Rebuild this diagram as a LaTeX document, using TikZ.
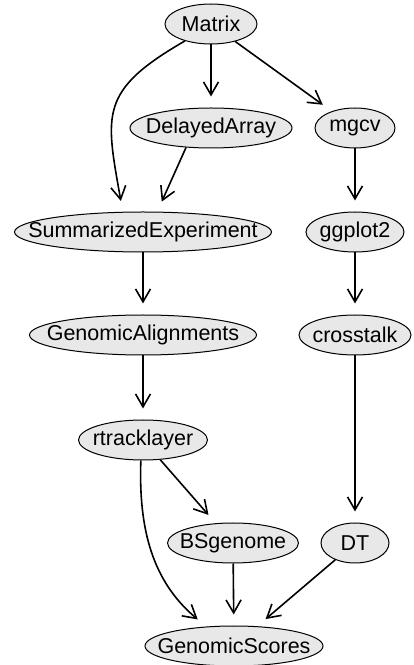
\documentclass[tikz,border=0pt]{standalone}
\usepackage{fontspec}
\setmainfont{Liberation Sans}
\usetikzlibrary{shapes.geometric,arrows.meta}

\begin{document}
\begin{tikzpicture}[x=1pt,y=1pt,font=\fontsize{21.5}{25}\selectfont]
    \tikzset{
        pkg/.style={
            ellipse, draw, fill=gray!18, line width=1pt,
            inner sep=0pt, minimum height=40pt, minimum width=#1,
            execute at begin node={\hbox to 0pt\bgroup\hss},
            execute at end node={\hss\egroup}
        },
        dep/.style={
            -{Straight Barb[length=13pt,width=15pt]},
            line width=1.6pt, shorten >=11pt
        }
    }
    \useasboundingbox (0,0) rectangle (414,665);

    \node[pkg=92pt] (matrix) at (211,641) {Matrix};
    \node[pkg=162pt] (delayed) at ([yshift=-104pt] matrix) {DelayedArray};
    \node[pkg=80pt] (mgcv) at (355,537) {mgcv};
    \node[pkg=257pt] (se) at (143,433) {SummarizedExperiment};
    \node[pkg=98pt] (ggplot) at ([yshift=-104pt] mgcv) {ggplot2};
    \node[pkg=227pt] (ga) at ([yshift=-103pt] se) {GenomicAlignments};
    \node[pkg=112pt] (crosstalk) at ([yshift=-103pt] ggplot) {crosstalk};
    \node[pkg=129pt] (rtrack) at ([yshift=-105pt] ga) {rtracklayer};
    \node[pkg=131pt] (bsgenome) at (233,122) {BSgenome};
    \node[pkg=68pt] (dt) at ([yshift=-208pt] crosstalk) {DT};
    \node[pkg=178pt] (scores) at (234,19) {GenomicScores};

    \draw[dep] (matrix.-147) to[out=-150,in=100,looseness=1.4] (se.135);
    \draw[dep] (matrix) -- (delayed);
    \draw[dep] (matrix) -- (mgcv);
    \draw[dep] (delayed.-142) -- (se.55);
    \draw[dep] (mgcv) -- (ggplot);
    \draw[dep] (se) -- (ga);
    \draw[dep] (ggplot) -- (crosstalk);
    \draw[dep] (ga) -- (rtrack);
    \draw[dep] (crosstalk) -- (dt);
    \draw[dep] (rtrack) -- (bsgenome);
    \draw[dep] (rtrack.-96) to[out=-92,in=140] (scores.145);
    \draw[dep] (bsgenome) -- (scores);
    \draw[dep] (dt) -- (scores);
\end{tikzpicture}
\end{document}
